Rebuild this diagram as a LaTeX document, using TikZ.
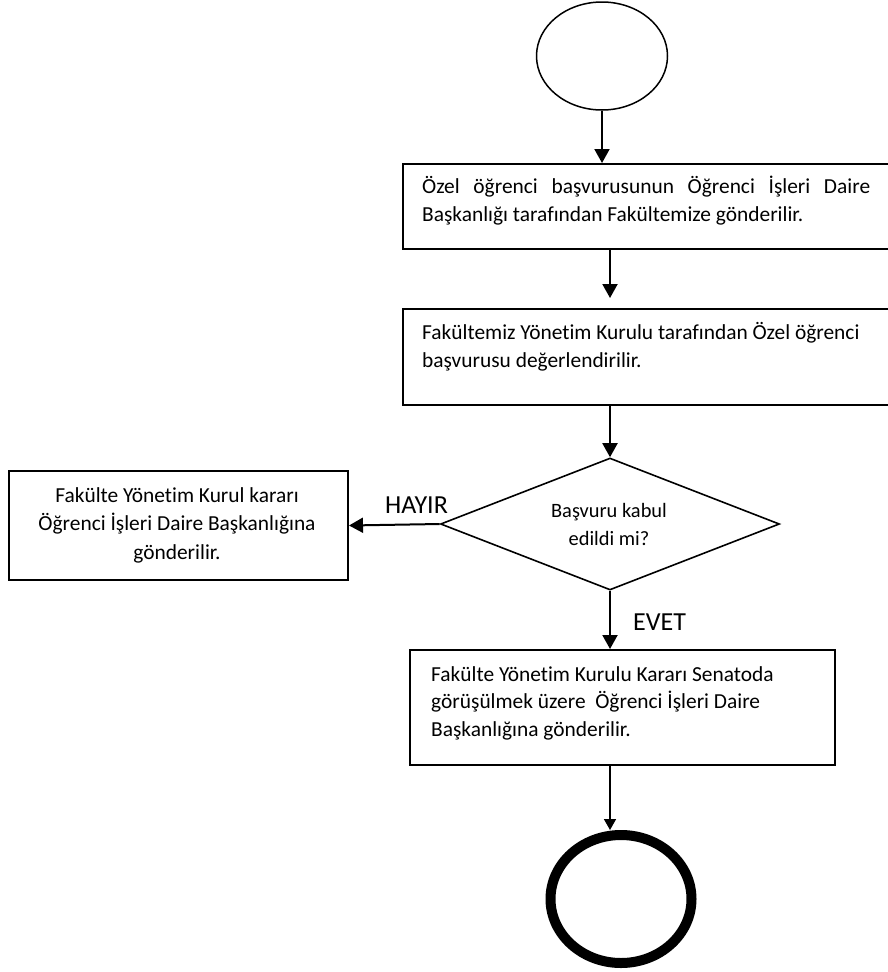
\documentclass[tikz,border=0pt]{standalone}
\usepackage{fontspec}
\setmainfont{Carlito}[Ligatures=NoCommon]
\usetikzlibrary{shapes.geometric,arrows.meta}
\begin{document}
\begin{tikzpicture}[x=1pt,y=-1pt,
  box/.style={draw, line width=2pt, rectangle, inner sep=0pt},
  txt/.style={inner sep=0pt, font=\fontsize{21.4}{28}\selectfont},
  ctxt/.style={inner sep=0pt, font=\fontsize{21.4}{28}\selectfont},
  dtxt/.style={inner sep=0pt, font=\fontsize{20.4}{28}\selectfont},
  lbl/.style={inner sep=0pt, font=\fontsize{26}{30}\selectfont},
  arr/.style={line width=2pt, -{Triangle[width=15pt,length=14pt]}},
  arrs/.style={line width=1.6pt, -{Triangle[width=12pt,length=11pt]}}]
\useasboundingbox (0,0) rectangle (888,972);
\clip (0,0) rectangle (888,972);
\fill[white] (0,0) rectangle (888,972);
% shapes
\node[ellipse, draw, line width=1.5pt, minimum width=131pt, minimum height=108pt, inner sep=0pt] (s) at (602,56) {};
\node[box, minimum width=498pt, minimum height=85pt, anchor=north west] (b1) at (402,163) {};
\node[box, minimum width=498pt, minimum height=96pt, anchor=north west] (b2) at (402,308) {};
\node[diamond, draw, line width=1.6pt, minimum width=339pt, minimum height=132pt, inner sep=0pt] (dia) at (610,524) {};
\node[box, minimum width=339pt, minimum height=109pt, anchor=north west] (lb) at (8,470) {};
\node[box, minimum width=425pt, minimum height=115pt, anchor=north west] (b3) at (409,649) {};
\node[ellipse, draw, line width=10pt, minimum width=141pt, minimum height=128pt, inner sep=0pt] (e) at (621,899) {};
% texts
\node[txt, anchor=base west] (t1a) at (422,193) {\makebox[448pt][s]{Özel öğrenci başvurusunun Öğrenci İşleri Daire}};
\node[txt, anchor=base west] (t1b) at (422,221) {Başkanlığı tarafından Fakültemize gönderilir.};
\node[txt, anchor=base west] (t2a) at (422,339) {Fakültemiz Yönetim Kurulu tarafından Özel öğrenci};
\node[txt, anchor=base west] (t2b) at (422,367) {başvurusu değerlendirilir.};
\node[dtxt, anchor=base] (tda) at (609,517) {Başvuru kabul};
\node[dtxt, anchor=base] (tdb) at (609,545) {edildi mi?};
\node[ctxt, anchor=base] (tla) at (177,502) {Fakülte Yönetim Kurul kararı};
\node[ctxt, anchor=base] (tlb) at (177,530) {Öğrenci İşleri Daire Başkanlığına};
\node[ctxt, anchor=base] (tlc) at (177,559) {gönderilir.};
\node[txt, anchor=base west] (t3a) at (431,681) {Fakülte Yönetim Kurulu Kararı Senatoda};
\node[txt, anchor=base west] (t3b) at (431,708) {görüşülmek üzere\ \ Öğrenci İşleri Daire};
\node[txt, anchor=base west] (t3c) at (431,736) {Başkanlığına gönderilir.};
\node[lbl, anchor=base west] (hayir) at (385,513) {HAYIR};
\node[lbl, anchor=base west] (evet) at (633,630) {EVET};
% connectors
\draw[arr] (s.south) -- (s.south |- b1.north);
\draw[arr, shorten >=10pt] (dia.north |- b1.south) -- (dia.north |- b2.north);
\draw[arr] (dia.north |- b2.south) -- (dia.north);
\draw[arr] (dia.west) -- (lb.east);
\draw[arr] (dia.south) -- (dia.south |- b3.north);
\draw[arrs] (dia.south |- b3.south) -- (dia.south |- e.north);
\end{tikzpicture}
\end{document}
